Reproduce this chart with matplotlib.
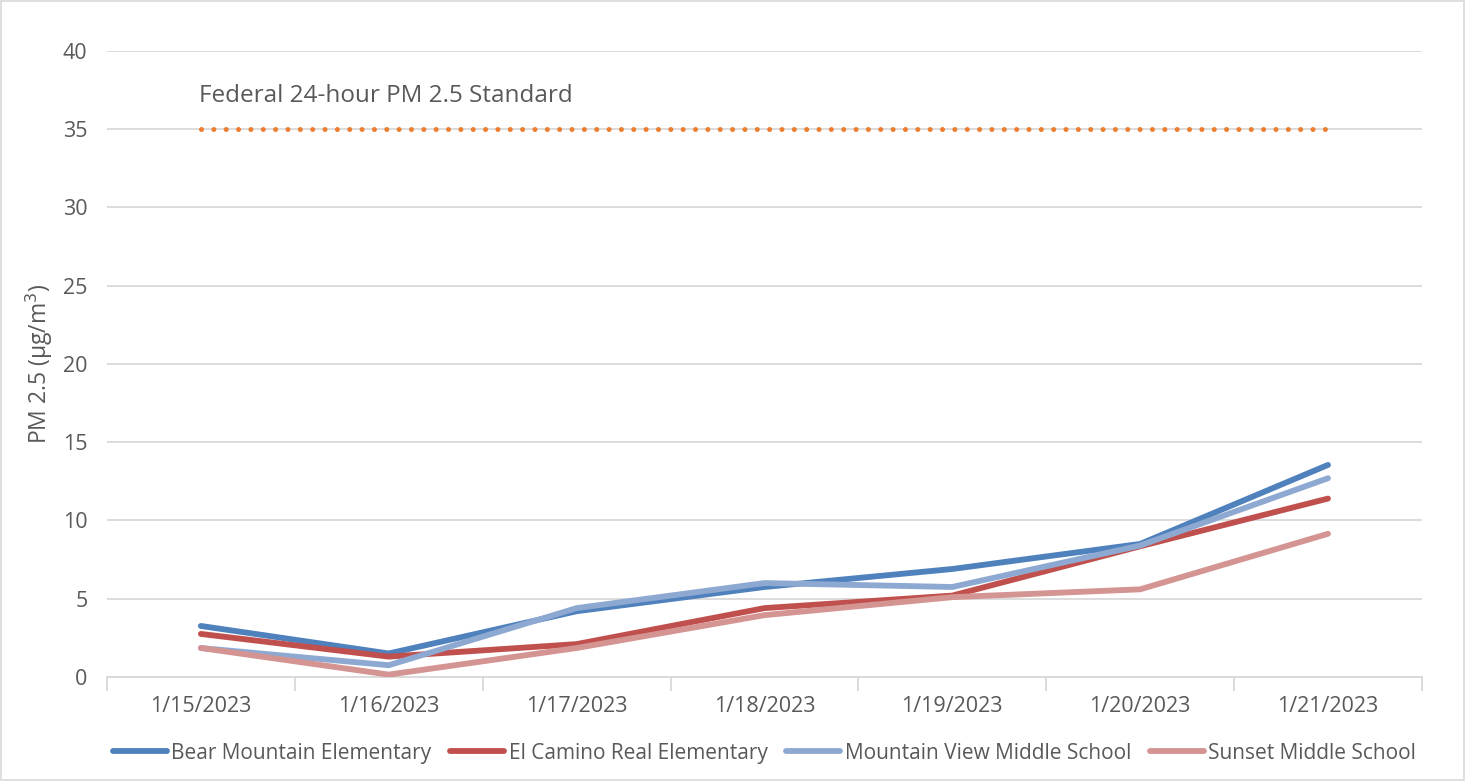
import numpy as np
import matplotlib as mpl
mpl.use('Agg')
import matplotlib.pyplot as plt

plt.rcParams['font.family'] = ['Open Sans', 'DejaVu Sans']

dates = ["1/15/2023", "1/16/2023", "1/17/2023", "1/18/2023",
         "1/19/2023", "1/20/2023", "1/21/2023"]
bear = [3.26, 1.5, 4.2, 5.75, 6.9, 8.5, 13.55]
camino = [2.75, 1.3, 2.1, 4.4, 5.2, 8.35, 11.4]
mtview = [1.85, 0.75, 4.4, 6.0, 5.75, 8.4, 12.7]
sunset = [1.85, 0.15, 1.85, 3.95, 5.1, 5.6, 9.15]
standard = [35] * 7

series = [("Bear Mountain Elementary", bear, "#4F81BD"),
          ("El Camino Real Elementary", camino, "#C0504D"),
          ("Mountain View Middle School", mtview, "#8EA9D1"),
          ("Sunset Middle School", sunset, "#D49491")]

txt = "#595959"
grid = "#D9D9D9"

fig = plt.figure(figsize=(14.65, 7.81), dpi=100)
ax = fig.add_axes([0.073, 0.1332, 0.8976, 0.8015])
x = np.arange(len(dates))

ax.plot(x, standard, color="#ED7D31", lw=3.6, linestyle=(0, (0.01, 2.46)),
        dash_capstyle="round", zorder=3)
for name, vals, c in series:
    ax.plot(x, vals, color=c, lw=4.2, solid_capstyle="round",
            solid_joinstyle="round", label=name, zorder=4)

ax.text(-0.01, 37.1, "Federal 24-hour PM 2.5 Standard", fontsize=17.5,
        color=txt, ha="left", va="center")

ax.set_xlim(-0.5, len(dates) - 0.5)
ax.set_ylim(0, 40)
ax.set_yticks(range(0, 41, 5))
ax.set_xticks(x)
ax.set_xticklabels(dates)
ax.set_xticks(np.arange(-0.5, len(dates), 1), minor=True)
ax.tick_params(axis="x", which="major", length=0, pad=14, labelsize=15.5,
               labelcolor=txt)
ax.tick_params(axis="x", which="minor", length=10, color=grid, width=1.3)
ax.tick_params(axis="y", length=0, pad=14, labelsize=15.5, labelcolor=txt)
ax.grid(axis="y", color=grid, lw=1.3)
ax.set_axisbelow(True)
for s in ["top", "right", "left"]:
    ax.spines[s].set_visible(False)
ax.spines["bottom"].set_color(grid)
ax.spines["bottom"].set_linewidth(1.3)

ax.set_ylabel("PM 2.5 (µg/m$^3$)", fontsize=16.5, color=txt, labelpad=6)

leg = ax.legend(loc="upper center", bbox_to_anchor=(0.5, -0.075), ncol=4,
                frameon=False, fontsize=15, handlelength=2.6,
                handletextpad=0.2, columnspacing=0.9)
for t in leg.get_texts():
    t.set_color(txt)

fig.patches.append(plt.Rectangle((0.001, 0.001), 0.998, 0.998,
                                 transform=fig.transFigure, fill=False,
                                 edgecolor=grid, lw=1.2))

fig.savefig("out.png", dpi=100)
